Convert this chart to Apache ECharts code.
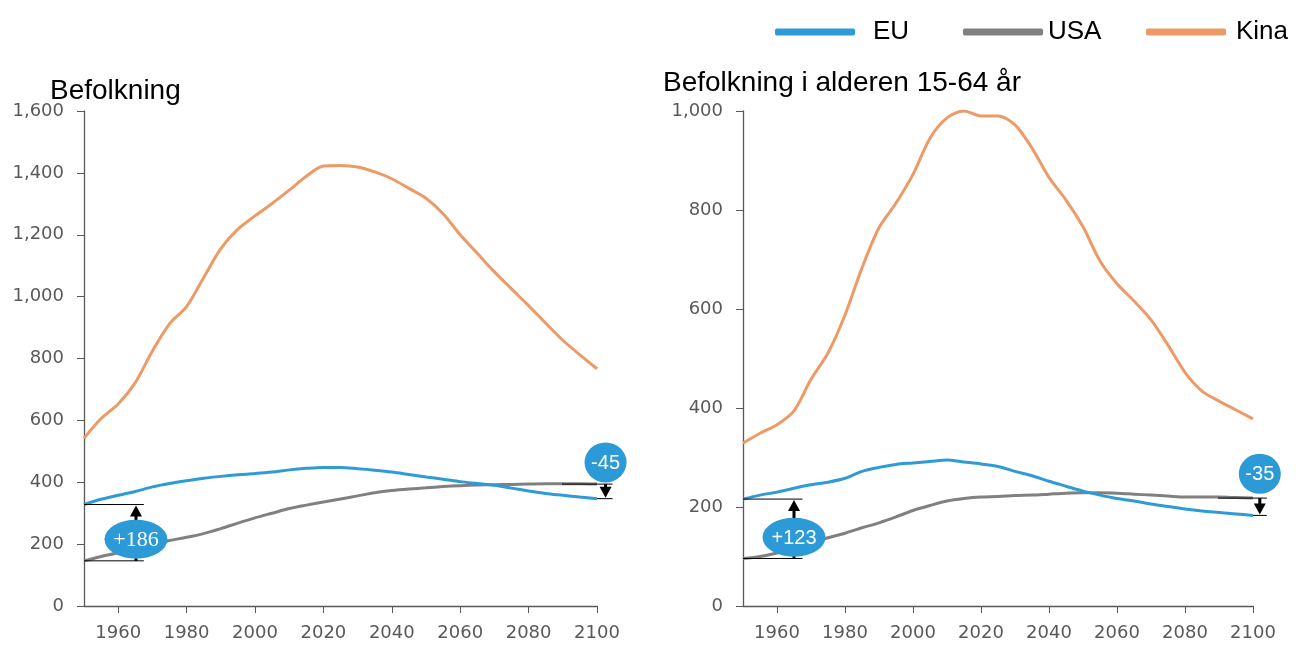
<!DOCTYPE html>
<html>
<head>
<meta charset="utf-8">
<script src="https://cdn.jsdelivr.net/npm/echarts@6/dist/echarts.min.js"></script>
<style>
  html, body { margin: 0; padding: 0; background: #fff; }
  #main { width: 1296px; height: 645px; }
</style>
</head>
<body>
<div id="main"></div>
<script>
// Data (millions), 5-year steps
var years = [1950, 1955, 1960, 1965, 1970, 1975, 1980, 1985, 1990, 1995, 2000, 2005, 2010, 2015, 2020, 2025,
  2030, 2035, 2040, 2045, 2050, 2055, 2060, 2065, 2070, 2075, 2080, 2085, 2090, 2095, 2100];

// Befolkning
var popEU = [328, 345, 358, 370, 385, 396, 405, 413, 419, 424, 428, 433, 440, 445, 448, 448,
  444, 439, 433, 425, 417, 410, 402, 396, 390, 381, 372, 364, 358, 352, 347];
var popUSA = [146, 160, 172, 187, 200, 212, 222, 234, 250, 268, 285, 300, 315, 326, 336, 346,
  356, 366, 373, 378, 382, 386, 389, 391, 392, 393, 394, 395, 395, 395, 394];
var popKina = [542, 606, 653, 722, 824, 912, 968, 1062, 1155, 1218, 1261, 1301, 1344, 1389, 1422, 1424,
  1419, 1403, 1381, 1350, 1318, 1268, 1200, 1140, 1080, 1025, 971, 914, 859, 812, 767];

// Befolkning i alderen 15-64 år
var workEU = [216, 224, 230, 238, 245, 250, 258, 272, 280, 286, 289, 292, 295, 291, 287, 282,
  272, 263, 252, 242, 232, 224, 217, 212, 206, 201, 196, 192, 189, 186, 183];
var workUSA = [96, 100, 107, 115, 128, 138, 147, 158, 168, 180, 193, 203, 212, 217, 220, 221,
  223, 224, 226, 228, 229, 229, 228, 226, 224, 222, 220, 220, 220, 219, 218];
var workKina = [329, 349, 366, 394, 458, 511, 588, 683, 764, 814, 872, 945, 986, 1000, 990, 990,
  972, 925, 866, 820, 766, 697, 651, 616, 578, 527, 472, 434, 414, 396, 378];

var yearTicks = [1960, 1980, 2000, 2020, 2040, 2060, 2080, 2100];
var titles = ["Befolkning", "Befolkning i alderen 15-64 år"];
var startLabels = ["+186", "+123"];
var endLabels = ["-45", "-35"];

var colEU = "#2f9bd6";
var colUSA = "#808080";
var colKina = "#ee9a66";
var axisCol = "#595959";
var bubbleCol = "#2b9ad6";

var chart = echarts.init(document.getElementById("main"));

function pairs(vals) {
  return years.map(function (y, i) { return [y, vals[i]]; });
}

function lineSeries(name, vals, idx, color) {
  return {
    name: name,
    type: "line",
    xAxisIndex: idx,
    yAxisIndex: idx,
    data: pairs(vals),
    symbol: "none",
    smooth: 0.3,
    silent: true,
    lineStyle: { width: 3, color: color },
    itemStyle: { color: color },
  };
}

function xAxisOf(idx) {
  return {
    type: "value",
    gridIndex: idx,
    min: 1950,
    max: 2100,
    axisLine: { show: true, lineStyle: { color: axisCol, width: 1.3 } },
    axisTick: { show: true, customValues: yearTicks, length: 7, lineStyle: { color: axisCol } },
    axisLabel: {
      customValues: yearTicks,
      formatter: function (v) { return String(v); },
      color: axisCol,
      fontSize: 18,
      fontFamily: "DejaVu Sans",
      margin: 18,
    },
    splitLine: { show: false },
  };
}

function yAxisOf(idx, max) {
  return {
    type: "value",
    gridIndex: idx,
    min: 0,
    max: max,
    interval: 200,
    axisLine: { show: true, lineStyle: { color: axisCol, width: 1.3 } },
    axisTick: { show: true, length: 7, lineStyle: { color: axisCol } },
    axisLabel: { color: axisCol, fontSize: 18, fontFamily: "DejaVu Sans", margin: 20 },
    splitLine: { show: false },
  };
}

var legendText = { fontSize: 26, color: "#000", fontFamily: "Liberation Sans" };
var titleText = { fontSize: 28, fontWeight: "normal", color: "#000", fontFamily: "Liberation Sans" };

var option = {
  backgroundColor: "#fff",
  animation: false,
  title: [
    { text: titles[0], left: 50, top: 77, padding: 0, textStyle: titleText },
    { text: titles[1], left: 663, top: 69, padding: 0, textStyle: titleText },
  ],
  legend: [
    { data: ["EU"], left: 775, top: 19, padding: 0, icon: "roundRect", itemWidth: 80, itemHeight: 7,
      textStyle: Object.assign({ padding: [0, 0, 0, 13] }, legendText) },
    { data: ["USA"], left: 963, top: 19, padding: 0, icon: "roundRect", itemWidth: 80, itemHeight: 7,
      textStyle: legendText },
    { data: ["Kina"], left: 1146, top: 19, padding: 0, icon: "roundRect", itemWidth: 80, itemHeight: 7,
      textStyle: Object.assign({ padding: [0, 0, 0, 5] }, legendText) },
  ],
  grid: [
    { left: 84, right: 699, top: 111, bottom: 39 },
    { left: 743, right: 43, top: 111, bottom: 39 },
  ],
  xAxis: [xAxisOf(0), xAxisOf(1)],
  yAxis: [yAxisOf(0, 1600), yAxisOf(1, 1000)],
  series: [
    lineSeries("USA", popUSA, 0, colUSA),
    lineSeries("EU", popEU, 0, colEU),
    lineSeries("Kina", popKina, 0, colKina),
    lineSeries("USA", workUSA, 1, colUSA),
    lineSeries("EU", workEU, 1, colEU),
    lineSeries("Kina", workKina, 1, colKina),
  ],
};
chart.setOption(option);

// gap annotations (arrows + bubbles), placed through the grids' own scales
var notes = [
  { grid: 0, eu: popEU, usa: popUSA, startBubble: 216, endBubble: 464, arrowX: 1965.2, endX: 2102.5, serif: true },
  { grid: 1, eu: workEU, usa: workUSA, startBubble: 139, endBubble: 267, arrowX: 1965, endX: 2102, serif: false },
];

function px(g, x, y) {
  return chart.convertToPixel({ gridIndex: g }, [x, y]);
}

var graphics = [];
notes.forEach(function (n, i) {
  var g = n.grid;
  var last = years.length - 1;
  // start gap
  var a = px(g, 1950, n.eu[0]);
  var b = px(g, 1950, n.usa[0]);
  var right = px(g, 1967.5, 0)[0];
  var ax = px(g, n.arrowX, 0)[0];
  graphics.push(
    { type: "line", shape: { x1: a[0], y1: a[1], x2: right, y2: a[1] }, style: { stroke: "#000", lineWidth: 1 }, z: 10 },
    { type: "line", shape: { x1: b[0], y1: b[1], x2: right, y2: b[1] }, style: { stroke: "#000", lineWidth: 1 }, z: 10 },
    { type: "line", shape: { x1: ax, y1: b[1], x2: ax, y2: a[1] + 8 }, style: { stroke: "#000", lineWidth: 3 }, z: 10 },
    { type: "polygon", shape: { points: [[ax, a[1] + 1], [ax - 6, a[1] + 12], [ax + 6, a[1] + 12]] }, style: { fill: "#000" }, z: 10 }
  );
  var sb = px(g, n.arrowX, n.startBubble);
  graphics.push(
    { type: "circle", x: sb[0], y: sb[1], scaleX: 31.5 / 19.5, shape: { cx: 0, cy: 0, r: 19.5 }, style: { fill: bubbleCol }, z: 11 },
    { type: "text", x: sb[0], y: sb[1] + 1, z: 12,
      style: { text: startLabels[i], fill: "#fff", align: "center", verticalAlign: "middle",
        font: n.serif ? '22px "Liberation Serif"' : '20px "Liberation Sans"' } }
  );
  // end gap
  var c = px(g, 2100, n.usa[last]);
  var d = px(g, 2100, n.eu[last]);
  var ex = px(g, n.endX, 0)[0];
  var lineEnd = ex + 7;
  graphics.push(
    { type: "line", shape: { x1: c[0] - 35, y1: c[1], x2: lineEnd, y2: c[1] }, style: { stroke: "#000", lineWidth: 1 }, z: 10 },
    { type: "line", shape: { x1: d[0], y1: d[1], x2: lineEnd, y2: d[1] }, style: { stroke: "#000", lineWidth: 1 }, z: 10 },
    { type: "line", shape: { x1: ex, y1: c[1], x2: ex, y2: d[1] - 6 }, style: { stroke: "#000", lineWidth: 3 }, z: 10 },
    { type: "polygon", shape: { points: [[ex, d[1] - 1], [ex - 6, d[1] - 12], [ex + 6, d[1] - 12]] }, style: { fill: "#000" }, z: 10 }
  );
  var eb = px(g, n.endX, n.endBubble);
  graphics.push(
    { type: "circle", x: eb[0], y: eb[1], scaleX: 21 / 20, shape: { cx: 0, cy: 0, r: 20 }, style: { fill: bubbleCol }, z: 11 },
    { type: "text", x: eb[0], y: eb[1] + 1, z: 12,
      style: { text: endLabels[i], fill: "#fff", align: "center", verticalAlign: "middle", font: '20px "Liberation Sans"' } }
  );
});

chart.setOption({ graphic: graphics });
</script>
</body>
</html>
